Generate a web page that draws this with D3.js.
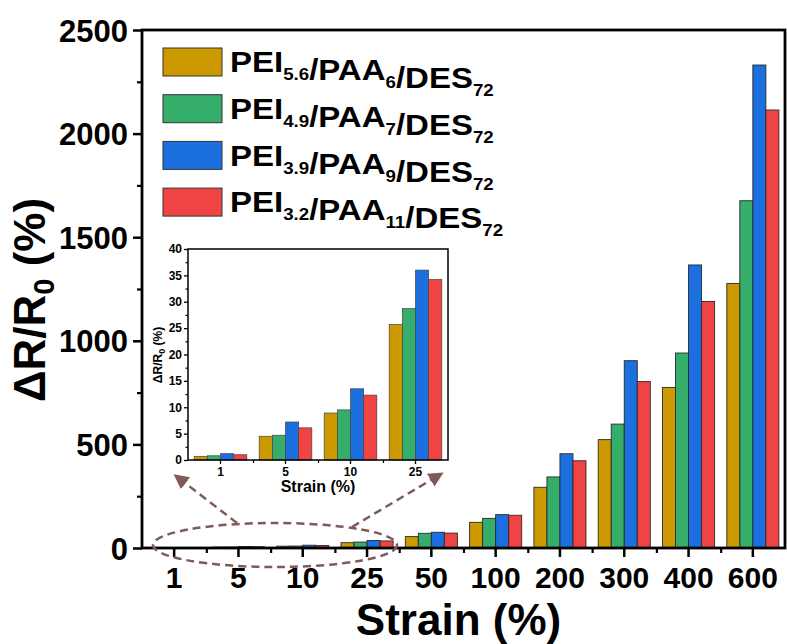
<!DOCTYPE html>
<html>
<head>
<meta charset="utf-8">
<script src="https://cdn.jsdelivr.net/npm/d3@7"></script>
<style>
  body { margin: 0; background: #fff; }
  text { font-family: "Liberation Sans", Arial, sans-serif; font-weight: bold; fill: #000; }
</style>
</head>
<body>
<script>
// strain levels (%)
var categories = ['1', '5', '10', '25', '50', '100', '200', '300', '400', '600'];
var insetCategories = ['1', '5', '10', '25'];

// dR/R0 (%) per sample
var pei56 = [0.7, 4.5, 8.9, 25.7, 55, 124, 293, 523, 775, 1277];
var pei49 = [0.8, 4.7, 9.5, 28.7, 71, 143, 343, 598, 941, 1676];
var pei39 = [1.2, 7.2, 13.5, 36.0, 76, 161, 455, 904, 1366, 2331];
var pei32 = [1.0, 6.1, 12.3, 34.2, 72, 158, 421, 803, 1190, 2114];

var yTicks = [0, 500, 1000, 1500, 2000, 2500];
var insetYTicks = [0, 5, 10, 15, 20, 25, 30, 35, 40];

// legend names as [text, subscript] pieces
var legendNames = [
  [['PEI', '5.6'], ['/PAA', '6'], ['/DES', '72']],
  [['PEI', '4.9'], ['/PAA', '7'], ['/DES', '72']],
  [['PEI', '3.9'], ['/PAA', '9'], ['/DES', '72']],
  [['PEI', '3.2'], ['/PAA', '11'], ['/DES', '72']]
];
var colors = ['#cc9900', '#36ae6b', '#1b6fdf', '#f04343'];

var series = [pei56, pei49, pei39, pei32];

var svgWidth = 787;
var svgHeight = 644;

var svg = d3.select('body').append('svg')
  .attr('width', svgWidth)
  .attr('height', svgHeight);

svg.append('rect').attr('width', svgWidth).attr('height', svgHeight).attr('fill', '#fff');

// ---------- main chart ----------
var pLeft = 142, pRight = 785, pTop = 30, pBottom = 548;

var xScale = d3.scaleBand().domain(categories).range([pLeft, pRight]);
var step = xScale.bandwidth();
var subScale = d3.scaleBand().domain(d3.range(series.length))
  .range([step * 0.095, step * 0.905]);
var yScale = d3.scaleLinear().domain([0, 2500]).range([pBottom, pTop]);

var bars = svg.append('g');
series.forEach(function(vals, s) {
  bars.selectAll('rect.s' + s)
    .data(vals)
    .enter()
    .append('rect')
      .attr('class', 's' + s)
      .attr('x', function(d, i) { return xScale(categories[i]) + subScale(s); })
      .attr('y', function(d) { return yScale(d); })
      .attr('width', subScale.bandwidth())
      .attr('height', function(d) { return yScale(0) - yScale(d); })
      .attr('fill', colors[s])
      .attr('stroke', '#2a2a2a')
      .attr('stroke-width', 0.9);
});

// minor ticks
var yMinor = d3.range(250, 2500, 500);
svg.append('g')
  .attr('transform', 'translate(' + pLeft + ',0)')
  .call(d3.axisLeft(yScale).tickValues(yMinor).tickSize(5).tickFormat(''))
  .call(function(g) { g.select('.domain').remove(); })
  .selectAll('line').attr('stroke-width', 2.2);

var y_axis = svg.append('g')
  .attr('transform', 'translate(' + pLeft + ',0)')
  .call(d3.axisLeft(yScale).tickValues(yTicks).tickSize(9).tickPadding(5).tickFormat(d3.format('d')));
y_axis.select('.domain').remove();
y_axis.selectAll('line').attr('stroke-width', 2.5);
y_axis.selectAll('text')
  .style('font-size', '31px')
  .attr('dy', '0.36em');

var boundary = d3.scaleLinear().domain([0, categories.length]).range([pLeft, pRight]);
svg.append('g')
  .attr('transform', 'translate(0,' + pBottom + ')')
  .call(d3.axisBottom(boundary).tickValues(d3.range(1, categories.length)).tickSize(5).tickFormat(''))
  .call(function(g) { g.select('.domain').remove(); })
  .selectAll('line').attr('stroke-width', 2.2);

var x_axis = svg.append('g')
  .attr('transform', 'translate(0,' + pBottom + ')')
  .call(d3.axisBottom(xScale).tickSize(9).tickPadding(10));
x_axis.select('.domain').remove();
x_axis.selectAll('line').attr('stroke-width', 2.5);
x_axis.selectAll('text')
  .style('font-size', '30px')
  .attr('dy', '0.71em');

svg.append('rect')
  .attr('x', pLeft).attr('y', pTop)
  .attr('width', pRight - pLeft).attr('height', pBottom - pTop)
  .attr('fill', 'none').attr('stroke', '#000').attr('stroke-width', 2.8);

// axis titles
svg.append('text')
  .attr('x', (pLeft + pRight) / 2 - 5)
  .attr('y', 635)
  .attr('text-anchor', 'middle')
  .style('font-size', '44px')
  .text('Strain (%)');

var yTitle = svg.append('text')
  .attr('transform', 'translate(45,300) rotate(-90)')
  .attr('text-anchor', 'middle')
  .style('font-size', '44px');
yTitle.append('tspan').text('\u0394R/R');
yTitle.append('tspan').attr('dy', 9).style('font-size', '29px').text('0');
yTitle.append('tspan').attr('dy', -9).text(' (%)');

// legend
var legend = svg.append('g');
legendNames.forEach(function(parts, i) {
  var ly = 48 + i * 46.7;
  legend.append('rect')
    .attr('x', 163).attr('y', ly)
    .attr('width', 59).attr('height', 28)
    .attr('fill', colors[i])
    .attr('stroke', '#333').attr('stroke-width', 1);
  var t = legend.append('text')
    .attr('transform', 'translate(230,' + (ly + 24.3) + ') scale(1.1,1)')
    .style('font-size', '30px');
  parts.forEach(function(p) {
    t.append('tspan').text(p[0]);
    t.append('tspan').attr('dy', 8).style('font-size', '17px').text(p[1]);
    t.append('tspan').attr('dy', -8).text('');
  });
});

// ---------- inset ----------
var iLeft = 188, iRight = 448, iTop = 249, iBottom = 460;
var ixScale = d3.scaleBand().domain(insetCategories).range([iLeft, iRight]);
var istep = ixScale.bandwidth();
var isubScale = d3.scaleBand().domain(d3.range(series.length))
  .range([istep * 0.095, istep * 0.905]);
var iyScale = d3.scaleLinear().domain([0, 40]).range([iBottom, iTop]);

svg.append('rect')
  .attr('x', iLeft).attr('y', iTop)
  .attr('width', iRight - iLeft).attr('height', iBottom - iTop)
  .attr('fill', '#fff');

var ibars = svg.append('g');
series.forEach(function(vals, s) {
  ibars.selectAll('rect.s' + s)
    .data(vals.slice(0, insetCategories.length))
    .enter()
    .append('rect')
      .attr('class', 's' + s)
      .attr('x', function(d, i) { return ixScale(insetCategories[i]) + isubScale(s); })
      .attr('y', function(d) { return iyScale(d); })
      .attr('width', isubScale.bandwidth())
      .attr('height', function(d) { return iyScale(0) - iyScale(d); })
      .attr('fill', colors[s])
      .attr('stroke', '#444')
      .attr('stroke-width', 0.7);
});

svg.append('g')
  .attr('transform', 'translate(' + iLeft + ',0)')
  .call(d3.axisLeft(iyScale).tickValues(d3.range(2.5, 40, 5)).tickSize(2.5).tickFormat(''))
  .call(function(g) { g.select('.domain').remove(); })
  .selectAll('line').attr('stroke-width', 1.2);

var iy_axis = svg.append('g')
  .attr('transform', 'translate(' + iLeft + ',0)')
  .call(d3.axisLeft(iyScale).tickValues(insetYTicks).tickSize(4).tickPadding(2));
iy_axis.select('.domain').remove();
iy_axis.selectAll('line').attr('stroke-width', 1.3);
iy_axis.selectAll('text').style('font-size', '12px');

var iboundary = d3.scaleLinear().domain([0, insetCategories.length]).range([iLeft, iRight]);
svg.append('g')
  .attr('transform', 'translate(0,' + iBottom + ')')
  .call(d3.axisBottom(iboundary).tickValues(d3.range(1, insetCategories.length)).tickSize(3).tickFormat(''))
  .call(function(g) { g.select('.domain').remove(); })
  .selectAll('line').attr('stroke-width', 1.2);

var ix_axis = svg.append('g')
  .attr('transform', 'translate(0,' + iBottom + ')')
  .call(d3.axisBottom(ixScale).tickSize(4).tickPadding(3));
ix_axis.select('.domain').remove();
ix_axis.selectAll('line').attr('stroke-width', 1.3);
ix_axis.selectAll('text').style('font-size', '12px');

svg.append('rect')
  .attr('x', iLeft).attr('y', iTop)
  .attr('width', iRight - iLeft).attr('height', iBottom - iTop)
  .attr('fill', 'none').attr('stroke', '#000').attr('stroke-width', 1.5);

svg.append('text')
  .attr('x', (iLeft + iRight) / 2)
  .attr('y', 492)
  .attr('text-anchor', 'middle')
  .style('font-size', '16px')
  .text('Strain (%)');

var iyTitle = svg.append('text')
  .attr('transform', 'translate(162,355) rotate(-90)')
  .attr('text-anchor', 'middle')
  .style('font-size', '12px');
iyTitle.append('tspan').text('\u0394R/R');
iyTitle.append('tspan').attr('dy', 3).style('font-size', '9px').text('0');
iyTitle.append('tspan').attr('dy', -3).text(' (%)');

// ---------- zoom annotation ----------
var annColor = '#7d5b5b';
svg.append('defs').append('marker')
  .attr('id', 'arrow')
  .attr('viewBox', '0 0 10 10')
  .attr('refX', 8).attr('refY', 5)
  .attr('markerWidth', 6).attr('markerHeight', 6)
  .attr('orient', 'auto')
  .append('path')
    .attr('d', 'M0,0 L10,5 L0,10 z')
    .attr('fill', annColor);

svg.append('ellipse')
  .attr('cx', 275).attr('cy', 545)
  .attr('rx', 122).attr('ry', 22)
  .attr('fill', 'none')
  .attr('stroke', annColor)
  .attr('stroke-width', 2.5)
  .attr('stroke-dasharray', '8,5');

svg.append('line')
  .attr('x1', 237).attr('y1', 523).attr('x2', 176).attr('y2', 476)
  .attr('stroke', annColor).attr('stroke-width', 2.5)
  .attr('stroke-dasharray', '8,5')
  .attr('marker-end', 'url(#arrow)');

svg.append('line')
  .attr('x1', 352).attr('y1', 527).attr('x2', 441).attr('y2', 474)
  .attr('stroke', annColor).attr('stroke-width', 2.5)
  .attr('stroke-dasharray', '8,5')
  .attr('marker-end', 'url(#arrow)');
</script>
</body>
</html>
